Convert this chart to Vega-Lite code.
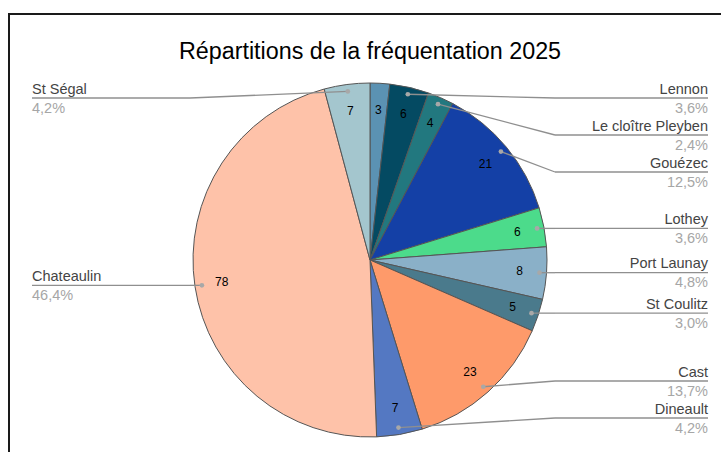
{
  "$schema": "https://vega.github.io/schema/vega-lite/v6.json",
  "width": 722,
  "height": 492,
  "autosize": {"type": "none"},
  "padding": {"left": 9, "top": 14, "right": -10, "bottom": -54},
  "background": "white",
  "config": {"view": {"stroke": "#1a1a1a", "strokeWidth": 2}, "font": "Liberation Sans"},
  "data": {"values": [
    {"name": "", "value": 3},
    {"name": "Lennon", "value": 6},
    {"name": "Le cloître Pleyben", "value": 4},
    {"name": "Gouézec", "value": 21},
    {"name": "Lothey", "value": 6},
    {"name": "Port Launay", "value": 8},
    {"name": "St Coulitz", "value": 5},
    {"name": "Cast", "value": 23},
    {"name": "Dineault", "value": 7},
    {"name": "Chateaulin", "value": 78},
    {"name": "St Ségal", "value": 7}
  ]},
  "transform": [
    {"window": [{"op": "row_number", "as": "idx"}]},
    {"window": [{"op": "sum", "field": "value", "as": "cum"}], "sort": [{"field": "idx"}], "frame": [null, 0]},
    {"joinaggregate": [{"op": "sum", "field": "value", "as": "total"}]},
    {"calculate": "(datum.cum - datum.value/2)/datum.total*2*PI", "as": "mid"},
    {"calculate": "170*sin(datum.mid)", "as": "dotX"},
    {"calculate": "-170*cos(datum.mid)", "as": "dotY"},
    {"calculate": "150*sin(datum.mid)", "as": "numX"},
    {"calculate": "-150*cos(datum.mid)", "as": "numY"},
    {"calculate": "datum.name === '' ? 'none' : (datum.dotX > 0 ? 'R' : 'L')", "as": "side"},
    {"calculate": "replace(format(datum.value/datum.total, '.1%'), '.', ',')", "as": "pct"},
    {"window": [{"op": "row_number", "as": "k"}], "groupby": ["side"], "sort": [{"field": "dotY"}]},
    {"joinaggregate": [{"op": "count", "as": "n"}], "groupby": ["side"]},
    {"calculate": "datum.dotY - 37*(datum.k-1)", "as": "key1"},
    {"window": [{"op": "max", "field": "key1", "as": "cmax"}], "groupby": ["side"], "sort": [{"field": "dotY"}], "frame": [null, 0]},
    {"calculate": "min(37*(datum.k-1) + max(-162, datum.cmax), 158 - 37*(datum.n - datum.k))", "as": "labelY"},
    {"calculate": "datum.side === 'R' ? 185 : -180", "as": "bendX"},
    {"calculate": "datum.side === 'R' ? 338 : -338", "as": "endX"}
  ],
  "layer": [
    {
      "mark": {"type": "arc", "outerRadius": 177, "stroke": "#555555", "strokeWidth": 1},
      "encoding": {
        "theta": {"field": "value", "type": "quantitative", "stack": true},
        "order": {"field": "idx", "type": "quantitative"},
        "color": {
          "field": "name", "type": "nominal", "legend": null,
          "scale": {
            "domain": ["", "Lennon", "Le cloître Pleyben", "Gouézec", "Lothey", "Port Launay", "St Coulitz", "Cast", "Dineault", "Chateaulin", "St Ségal"],
            "range": ["#5b92b3", "#044a62", "#22787f", "#1440a6", "#4cdb8b", "#8ab0c8", "#4a7a8c", "#fe9a6a", "#5478c2", "#fec2a9", "#a4c6ce"]
          }
        }
      }
    },
    {
      "mark": {"type": "text", "fontSize": 12, "color": "#000000", "align": "center", "baseline": "middle"},
      "encoding": {
        "x": {"field": "numX", "type": "quantitative", "scale": {"domain": [-361, 361], "nice": false, "zero": false}, "axis": null},
        "y": {"field": "numY", "type": "quantitative", "scale": {"domain": [-246, 246], "nice": false, "zero": false, "reverse": true}, "axis": null},
        "text": {"field": "value", "type": "quantitative"}
      }
    },
    {
      "transform": [{"filter": "datum.side !== 'none'"}],
      "mark": {"type": "rule", "color": "#8f8f8f", "strokeWidth": 1.3},
      "encoding": {
        "x": {"field": "dotX", "type": "quantitative", "scale": {"domain": [-361, 361], "nice": false, "zero": false}, "axis": null},
        "y": {"field": "dotY", "type": "quantitative", "scale": {"domain": [-246, 246], "nice": false, "zero": false, "reverse": true}, "axis": null},
        "x2": {"field": "bendX"},
        "y2": {"field": "labelY"}
      }
    },
    {
      "transform": [{"filter": "datum.side !== 'none'"}],
      "mark": {"type": "rule", "color": "#8f8f8f", "strokeWidth": 1.3},
      "encoding": {
        "x": {"field": "bendX", "type": "quantitative", "scale": {"domain": [-361, 361], "nice": false, "zero": false}, "axis": null},
        "y": {"field": "labelY", "type": "quantitative", "scale": {"domain": [-246, 246], "nice": false, "zero": false, "reverse": true}, "axis": null},
        "x2": {"field": "endX"}
      }
    },
    {
      "transform": [{"filter": "datum.side !== 'none'"}],
      "mark": {"type": "circle", "color": "#a8a8a8", "opacity": 1, "size": 22},
      "encoding": {
        "x": {"field": "dotX", "type": "quantitative", "scale": {"domain": [-361, 361], "nice": false, "zero": false}, "axis": null},
        "y": {"field": "dotY", "type": "quantitative", "scale": {"domain": [-246, 246], "nice": false, "zero": false, "reverse": true}, "axis": null}
      }
    },
    {
      "transform": [{"filter": "datum.side !== 'none'"}],
      "mark": {"type": "text", "fontSize": 14.5, "color": "#444444", "baseline": "alphabetic", "dy": -4.5, "align": {"expr": "datum.side === 'R' ? 'right' : 'left'"}},
      "encoding": {
        "x": {"field": "endX", "type": "quantitative", "scale": {"domain": [-361, 361], "nice": false, "zero": false}, "axis": null},
        "y": {"field": "labelY", "type": "quantitative", "scale": {"domain": [-246, 246], "nice": false, "zero": false, "reverse": true}, "axis": null},
        "text": {"field": "name", "type": "nominal"}
      }
    },
    {
      "transform": [{"filter": "datum.side !== 'none'"}],
      "mark": {"type": "text", "fontSize": 14.5, "color": "#a6a6a6", "baseline": "alphabetic", "dy": 14.5, "align": {"expr": "datum.side === 'R' ? 'right' : 'left'"}},
      "encoding": {
        "x": {"field": "endX", "type": "quantitative", "scale": {"domain": [-361, 361], "nice": false, "zero": false}, "axis": null},
        "y": {"field": "labelY", "type": "quantitative", "scale": {"domain": [-246, 246], "nice": false, "zero": false, "reverse": true}, "axis": null},
        "text": {"field": "pct", "type": "nominal"}
      }
    },
    {
      "data": {"values": [{"t": "Répartitions de la fréquentation 2025", "cx": 0, "cy": -201}]},
      "transform": [],
      "mark": {"type": "text", "fontSize": 23.3, "color": "#000000", "align": "center", "baseline": "alphabetic"},
      "encoding": {
        "x": {"field": "cx", "type": "quantitative", "scale": {"domain": [-361, 361], "nice": false, "zero": false}, "axis": null},
        "y": {"field": "cy", "type": "quantitative", "scale": {"domain": [-246, 246], "nice": false, "zero": false, "reverse": true}, "axis": null},
        "text": {"field": "t", "type": "nominal"}
      }
    }
  ]
}
